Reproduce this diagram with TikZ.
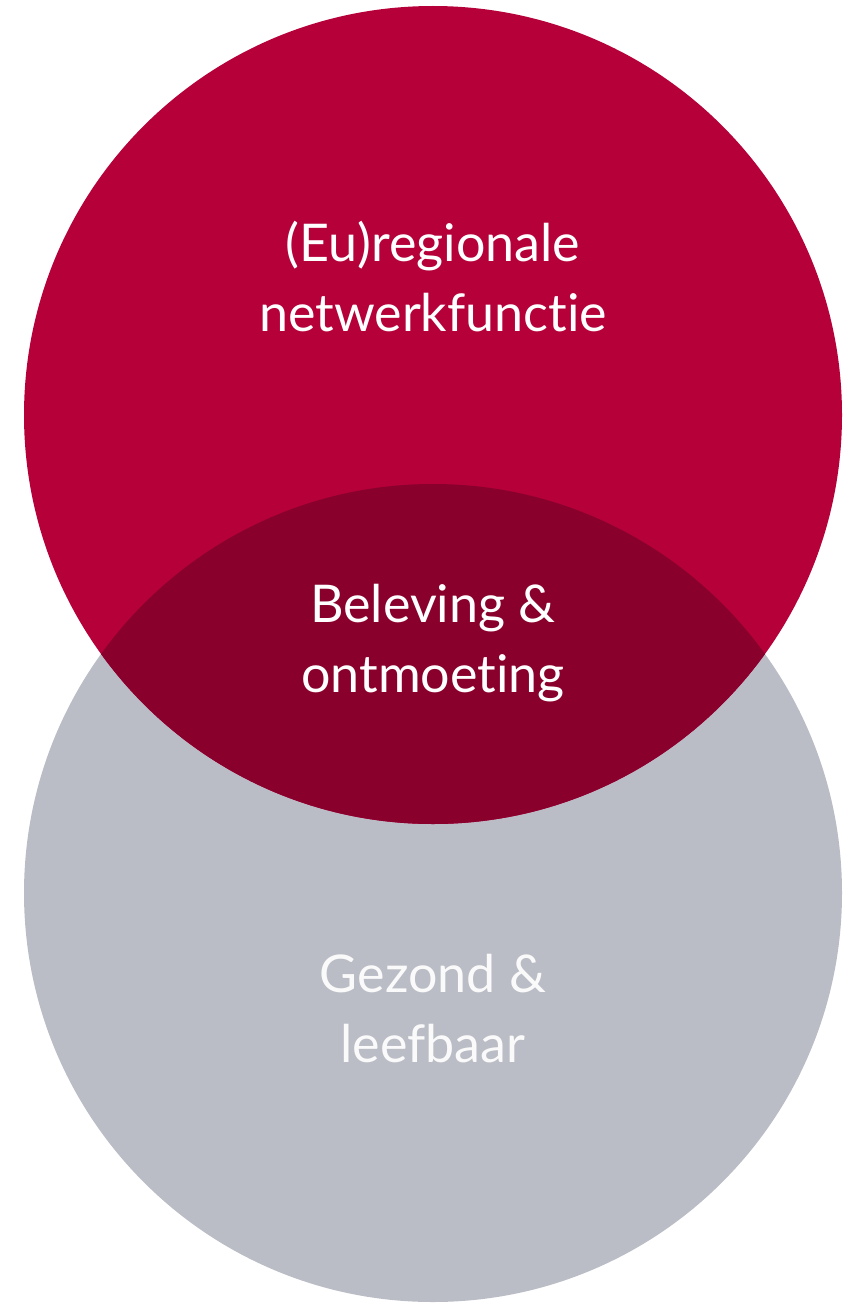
\documentclass[tikz,border=0pt]{standalone}
\usepackage{fontspec}
\setmainfont[Ligatures=CommonOff]{Lato}
\usepackage{xcolor}
\definecolor{venred}{HTML}{B5003A}
\definecolor{vendark}{HTML}{89002D}
\definecolor{vengray}{HTML}{BBBDC6}

\begin{document}
\begin{tikzpicture}[x=1pt,y=-1pt,node distance=366pt,
    label node/.style={align=center,text=white,font=\fontsize{52}{70}\selectfont},
    soft node/.style={label node,text=white!92!vengray}]

                \useasboundingbox (0,0) rectangle (859,1303);

                \coordinate (c1) at (433,415);
                \coordinate (c2) at (433,893);

                % gray circle first, red on top
                \fill[vengray] (c2) circle[radius=409pt];
                \fill[venred] (c1) circle[radius=409pt];

                % overlap
                \begin{scope}
                    \clip (c1) circle[radius=409pt];
                    \fill[vendark] (c2) circle[radius=409pt];
                \end{scope}

                \node (1) [label node] at (433,277) {(Eu)regionale\\netwerkfunctie};
                \node (2) [label node,below of=1] {Beleving \&\\ontmoeting};
                \node (3) [soft node,below of=2] {Gezond \&\\leefbaar};
            \end{tikzpicture}
\end{document}
